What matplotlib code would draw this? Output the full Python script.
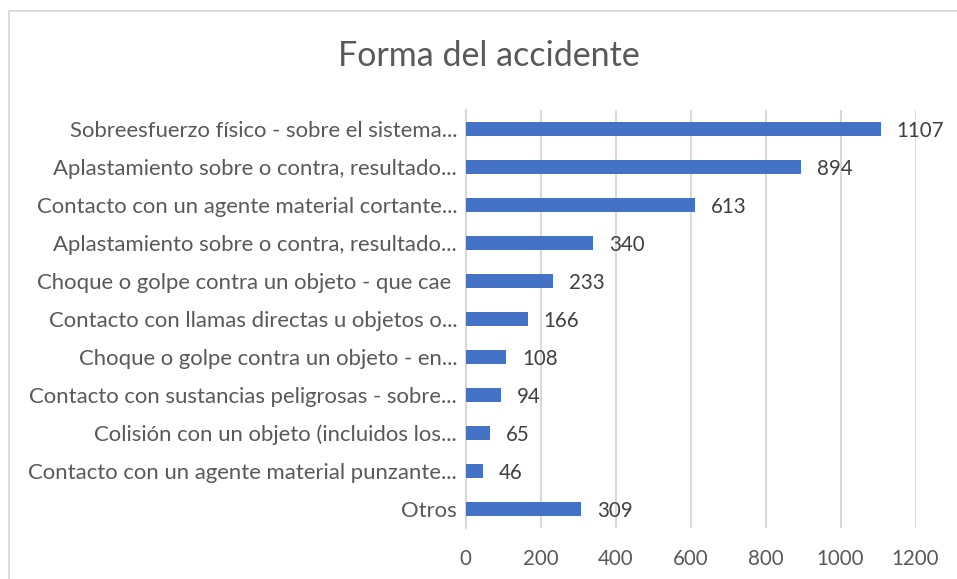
import matplotlib
matplotlib.use("Agg")
import matplotlib.pyplot as plt
from matplotlib.patches import Rectangle
from matplotlib import transforms

categories = [
    "Sobreesfuerzo físico - sobre el sistema...",
    "Aplastamiento sobre o contra, resultado...",
    "Contacto con un agente material cortante...",
    "Aplastamiento sobre o contra, resultado...",
    "Choque o golpe contra un objeto - que cae ",
    "Contacto con llamas directas u objetos o...",
    "Choque o golpe contra un objeto - en...",
    "Contacto con sustancias peligrosas - sobre...",
    "Colisión con un objeto (incluidos los...",
    "Contacto con un agente material punzante...",
    "Otros",
]
values = [1107, 894, 613, 340, 233, 166, 108, 94, 65, 46, 309]
xticks = [0, 200, 400, 600, 800, 1000, 1200]
title = "Forma del accidente"

plt.rcParams['font.family'] = ['Lato', 'DejaVu Sans']

W, H = 957, 579
fig = plt.figure(figsize=(W / 100, H / 100), dpi=100)
fig.patch.set_facecolor("white")

# outer chart border
fig.add_artist(Rectangle((9 / W, -0.1), 1.2, 1 - 11 / H + 0.1,
                         transform=fig.transFigure, fill=False,
                         edgecolor="#D9D9D9", linewidth=1.3))

left, right, top, bottom = 465.5, 915.5, 110, 528
ax = fig.add_axes([left / W, 1 - bottom / H, (right - left) / W, (bottom - top) / H])

y = list(range(len(categories)))
ax.barh(y, values, height=0.35, color="#4472C4", zorder=3)
ax.set_ylim(len(categories) - 0.5, -0.5)
ax.set_xlim(0, 1200)
ax.set_xticks(xticks)
ax.set_xticklabels([str(t) for t in xticks], fontsize=14.8, color="#595959")
ax.set_yticks(y)
ax.set_yticklabels(categories, fontsize=15.9, color="#595959")
ax.tick_params(axis="both", length=0)
ax.tick_params(axis="x", pad=15)
ax.tick_params(axis="y", pad=6)
ax.grid(axis="x", color="#D9D9D9", linewidth=1.5, zorder=0)
for s in ["top", "right", "bottom"]:
    ax.spines[s].set_visible(False)
ax.spines["left"].set_color("#D9D9D9")
ax.spines["left"].set_linewidth(1.5)

offset = transforms.offset_copy(ax.transData, fig=fig, x=16, y=-2, units="dots")
for yi, v in zip(y, values):
    ax.text(v, yi, str(v), transform=offset, va="center", ha="left",
            fontsize=14.8, color="#404040", zorder=4)

fig.text(489 / W, 1 - 56 / H, title, ha="center", va="center",
         fontsize=24.5, color="#595959")

fig.savefig("out.png", dpi=100, facecolor="white")
